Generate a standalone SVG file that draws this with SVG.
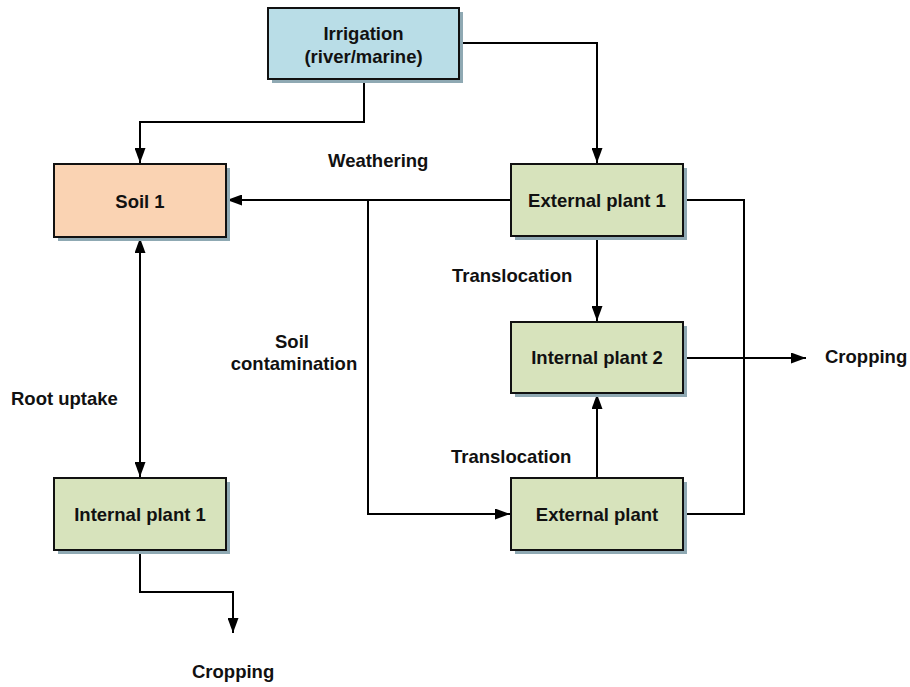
<svg xmlns="http://www.w3.org/2000/svg" width="910" height="687" viewBox="0 0 910 687">
<style>
text{font-family:"Liberation Sans",Arial,Helvetica,sans-serif;font-size:18.5px;font-weight:bold;fill:#111}
.node text{text-anchor:middle}
.box{stroke:#111;stroke-width:2}
.shadow{fill:#8fa9b3}
.blue{fill:#b9dde7}
.peach{fill:#fad3b3}
.green{fill:#d7e3bc}
.conn path{fill:none;stroke:#000;stroke-width:2}
</style>
<defs>
<marker id="arr" markerUnits="userSpaceOnUse" markerWidth="15" markerHeight="11" refX="15" refY="5.5" orient="auto-start-reverse" viewBox="0 0 15 11">
<path d="M0,0 L15,5.5 L0,11 z" fill="#000"/>
</marker>
</defs>
<rect width="910" height="687" fill="#fff"/>
<g id="connectors" class="conn">
<path d="M459,43 H597 V163" marker-end="url(#arr)"/>
<path d="M364,79 V122 H140 V163" marker-end="url(#arr)"/>
<path d="M511,200 H227" marker-end="url(#arr)"/>
<path d="M368,200 V514 H510" marker-end="url(#arr)"/>
<path d="M683,200 H744 V514 H683"/>
<path d="M597,236 V321" marker-end="url(#arr)"/>
<path d="M597,478 V394" marker-end="url(#arr)"/>
<path d="M683,358 H806" marker-end="url(#arr)"/>
<path d="M140,238 V477" marker-start="url(#arr)" marker-end="url(#arr)"/>
<path d="M140,550 V592 H233 V633" marker-end="url(#arr)"/>
</g>
<g id="irrigation" class="node">
<rect class="shadow" x="272" y="12" width="191" height="71"/>
<rect class="box blue" x="268" y="8" width="191" height="71"/>
<text x="363.5" y="40">Irrigation</text>
<text x="363.5" y="63">(river/marine)</text>
</g>
<g id="soil1" class="node">
<rect class="shadow" x="58" y="168" width="172" height="73"/>
<rect class="box peach" x="54" y="164" width="172" height="73"/>
<text x="140" y="208">Soil 1</text>
</g>
<g id="external-plant-1" class="node">
<rect class="shadow" x="515" y="168" width="172" height="72"/>
<rect class="box green" x="511" y="164" width="172" height="72"/>
<text x="597" y="207">External plant 1</text>
</g>
<g id="internal-plant-2" class="node">
<rect class="shadow" x="515" y="326" width="172" height="71"/>
<rect class="box green" x="511" y="322" width="172" height="71"/>
<text x="597" y="364">Internal plant 2</text>
</g>
<g id="external-plant" class="node">
<rect class="shadow" x="515" y="482" width="172" height="72"/>
<rect class="box green" x="511" y="478" width="172" height="72"/>
<text x="597" y="521">External plant</text>
</g>
<g id="internal-plant-1" class="node">
<rect class="shadow" x="58" y="482" width="172" height="72"/>
<rect class="box green" x="54" y="478" width="172" height="72"/>
<text x="140" y="521">Internal plant 1</text>
</g>
<g id="labels">
<text x="328" y="167">Weathering</text>
<text x="452" y="282">Translocation</text>
<text x="451" y="463">Translocation</text>
<text x="292" y="348" text-anchor="middle">Soil</text>
<text x="294" y="370" text-anchor="middle">contamination</text>
<text x="11" y="405">Root uptake</text>
<text x="825" y="363">Cropping</text>
<text x="192" y="678">Cropping</text>
</g>
</svg>
